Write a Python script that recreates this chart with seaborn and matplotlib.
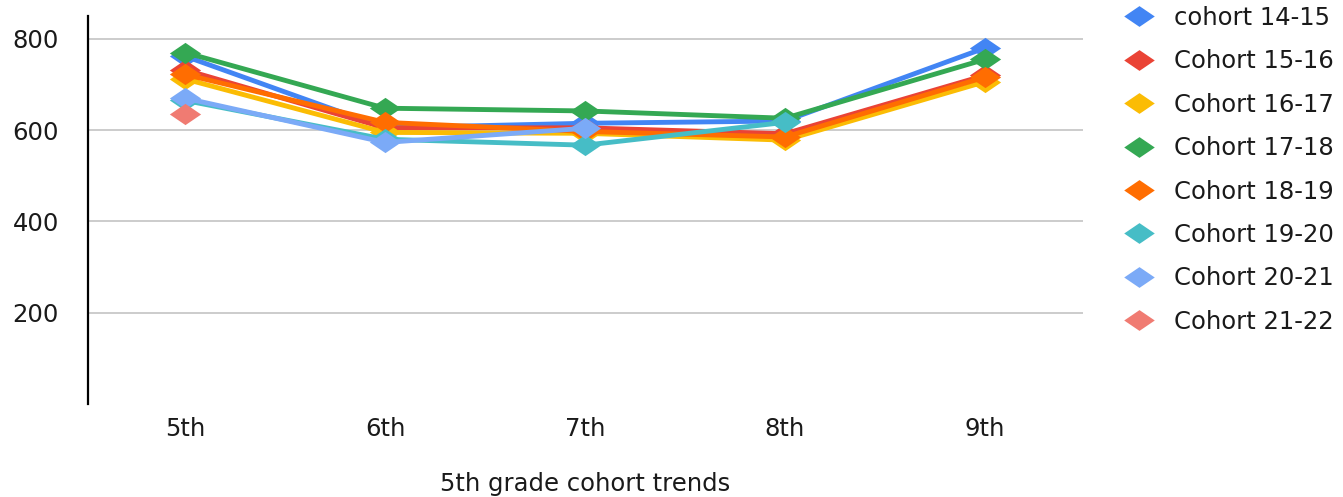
import numpy as np
import pandas as pd
import matplotlib
matplotlib.use("Agg")
import matplotlib.pyplot as plt
from matplotlib.path import Path
from matplotlib.lines import Line2D
import seaborn as sns

# Data
grades = ["5th", "6th", "7th", "8th", "9th"]
cohorts = ["cohort 14-15", "Cohort 15-16", "Cohort 16-17", "Cohort 17-18",
           "Cohort 18-19", "Cohort 19-20", "Cohort 20-21", "Cohort 21-22"]
cohort_14_15 = [762, 605, 615, 620, 780]
cohort_15_16 = [732, 605, 605, 592, 720]
cohort_16_17 = [712, 595, 593, 578, 706]
cohort_17_18 = [770, 648, 642, 626, 755]
cohort_18_19 = [722, 617, 597, 585, 716]
cohort_19_20 = [665, 580, 567, 617, np.nan]
cohort_20_21 = [670, 573, 604, np.nan, np.nan]
cohort_21_22 = [635, np.nan, np.nan, np.nan, np.nan]
colors = ["#4285F4", "#EA4335", "#FBBC04", "#34A853",
          "#FF6D01", "#46BDC6", "#7BAAF7", "#F07B72"]

series = [cohort_14_15, cohort_15_16, cohort_16_17, cohort_17_18,
          cohort_18_19, cohort_19_20, cohort_20_21, cohort_21_22]

sns.set_style("white")
plt.rcParams["font.family"] = ["DejaVu Sans"]
plt.rcParams["text.color"] = "#1a1a1a"
FS = 17.5
TXT = "#1a1a1a"

# wide, flat diamond marker like the Google Sheets one
diamond = Path([(-1, 0), (0, 0.68), (1, 0), (0, -0.68), (-1, 0)],
               [Path.MOVETO, Path.LINETO, Path.LINETO, Path.LINETO, Path.CLOSEPOLY])

fig = plt.figure(figsize=(13.43, 4.97), dpi=100)
ax = fig.add_axes([88 / 1343, 1 - 404 / 497, (1083 - 88) / 1343, (404 - 16) / 497])

x = np.arange(len(grades))
for name, vals, col in zip(cohorts, series, colors):
    df = pd.DataFrame({"x": x, "y": vals}).dropna()
    sns.lineplot(data=df, x="x", y="y", ax=ax, color=col, linewidth=3.5,
                 marker=diamond, markersize=22.5, markeredgewidth=0, sort=False)

ax.set_xlim(-0.485, 4.49)
ax.set_ylim(0, 850)
ax.set_yticks([200, 400, 600, 800])
ax.set_xticks(x)
ax.set_xticklabels(grades)
ax.yaxis.grid(True, color="#cccccc", linewidth=1.4)
ax.set_axisbelow(True)
for s in ["top", "right", "bottom"]:
    ax.spines[s].set_visible(False)
ax.spines["left"].set_color("black")
ax.spines["left"].set_linewidth(1.6)
ax.tick_params(axis="y", direction="inout", length=20, width=1.6, pad=11,
               labelsize=FS, colors="black", labelcolor=TXT)
ax.tick_params(axis="x", length=0, pad=9, labelsize=FS, labelcolor=TXT)
ax.set_ylabel("")
ax.set_xlabel("5th grade cohort trends", fontsize=FS, labelpad=23, color=TXT)

handles = [Line2D([], [], linestyle="none", marker=diamond, markersize=22,
                  markeredgewidth=0, color=c) for c in colors]
leg = fig.legend(handles, cohorts, loc="upper left", bbox_to_anchor=(1113 / 1343, 1.008),
                 frameon=False, fontsize=FS, handlelength=1.3, handletextpad=0.8,
                 labelspacing=0.80, borderaxespad=0)
for t in leg.get_texts():
    t.set_color(TXT)

fig.savefig("out.png", dpi=100)
